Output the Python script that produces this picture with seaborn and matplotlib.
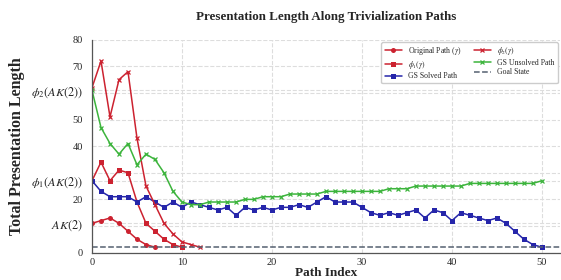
import numpy as np
import pandas as pd
import matplotlib
matplotlib.use("Agg")
import matplotlib.pyplot as plt
import seaborn as sns

# values
original_path = [11, 12, 13, 11, 8, 5, 3, 2]
phi1_path = [27, 34, 27, 31, 30, 19, 11, 8, 5, 3, 2]
phi2_path = [62, 72, 51, 65, 68, 43, 25, 18, 11, 7, 4, 3, 2]
gs_solved = [27, 23, 21, 21, 21, 19, 21, 19, 17, 19,
             17, 19, 18, 17, 16, 17, 14, 17, 16, 17,
             16, 17, 17, 18, 17, 19, 21, 19, 19, 19,
             17, 15, 14, 15, 14, 15, 16, 13, 16, 15,
             12, 15, 14, 13, 12, 13, 11, 8, 5, 3, 2]
gs_unsolved = [61, 47, 41, 37, 41, 33, 37, 35, 30, 23, 19, 18, 18,
               19, 19, 19, 19, 20, 20, 21, 21, 21, 22, 22, 22, 22,
               23, 23, 23, 23, 23, 23, 23, 24, 24, 24, 25, 25, 25,
               25, 25, 25, 26, 26, 26, 26, 26, 26, 26, 26, 27]
goal_state = 2

ytick_vals = [0, 10, 11, 20, 27, 30, 40, 50, 60, 61, 70, 80]
ytick_labels = ["0", "", "$AK(2)$", "20", r"$\phi_1(AK(2))$", "", "40", "50",
                "", r"$\phi_2(AK(2))$", "70", "80"]

sns.set_style("whitegrid", {"grid.linestyle": "--", "grid.color": "#dddddd"})
plt.rcParams["font.family"] = ["Liberation Serif", "DejaVu Serif"]
plt.rcParams["mathtext.fontset"] = "stix"

red = "#cc2230"
blue = "#2626aa"
green = "#3cb43c"

fig = plt.figure(figsize=(5.61, 2.8), dpi=100)
ax = fig.add_axes([0.164, 0.098, 0.834, 0.76])

series = [
    ("Original Path ($\\gamma$)", original_path, red, "o"),
    ("$\\phi_1(\\gamma)$", phi1_path, red, "s"),
    ("GS Solved Path", gs_solved, blue, "s"),
    ("$\\phi_2(\\gamma)$", phi2_path, red, "x"),
    ("GS Unsolved Path", gs_unsolved, green, "x"),
]
for label, vals, col, mk in series:
    df = pd.DataFrame({"idx": np.arange(len(vals)), "len": vals})
    sns.lineplot(data=df, x="idx", y="len", ax=ax, color=col, marker=mk,
                 markersize=3.0 if mk == "x" else 3.6,
                 markeredgewidth=0.9 if mk == "x" else 0,
                 markeredgecolor=col, linewidth=1.1, label=label)

ax.axhline(goal_state, color="#556070", linestyle="--", linewidth=1.1, label="Goal State")

ax.set_xlim(0, 52)
ax.set_ylim(0, 80)
ax.set_yticks(ytick_vals)
ax.set_yticklabels(ytick_labels)
ax.set_xticks([0, 10, 20, 30, 40, 50])
ax.tick_params(axis="both", labelsize=7.5, length=2, pad=2)
ax.tick_params(axis="y", pad=4.5)
for t in ax.get_yticklabels():
    if t.get_text().startswith("$"):
        t.set_fontsize(8.8)

ax.grid(True, linestyle="--", color="#dddddd", linewidth=0.8)
for s in ["top", "right"]:
    ax.spines[s].set_visible(False)
for s in ["left", "bottom"]:
    ax.spines[s].set_color("#555555")
    ax.spines[s].set_linewidth(0.9)

ax.set_title("Presentation Length Along Trivialization Paths", fontsize=9.4,
             fontweight="bold", pad=14)
ax.set_xlabel("Path Index", fontsize=9.5, fontweight="bold", labelpad=0)
ax.set_ylabel("Total Presentation Length", fontsize=11.5, fontweight="bold", labelpad=4)

ax.legend(ncol=2, loc="upper right", fontsize=5.6, frameon=True, framealpha=1,
          edgecolor="#cccccc", borderpad=0.4, labelspacing=0.2,
          columnspacing=1.6, handlelength=2.2, borderaxespad=0.3)

fig.savefig("out.png", dpi=100)
plt.close("all")
